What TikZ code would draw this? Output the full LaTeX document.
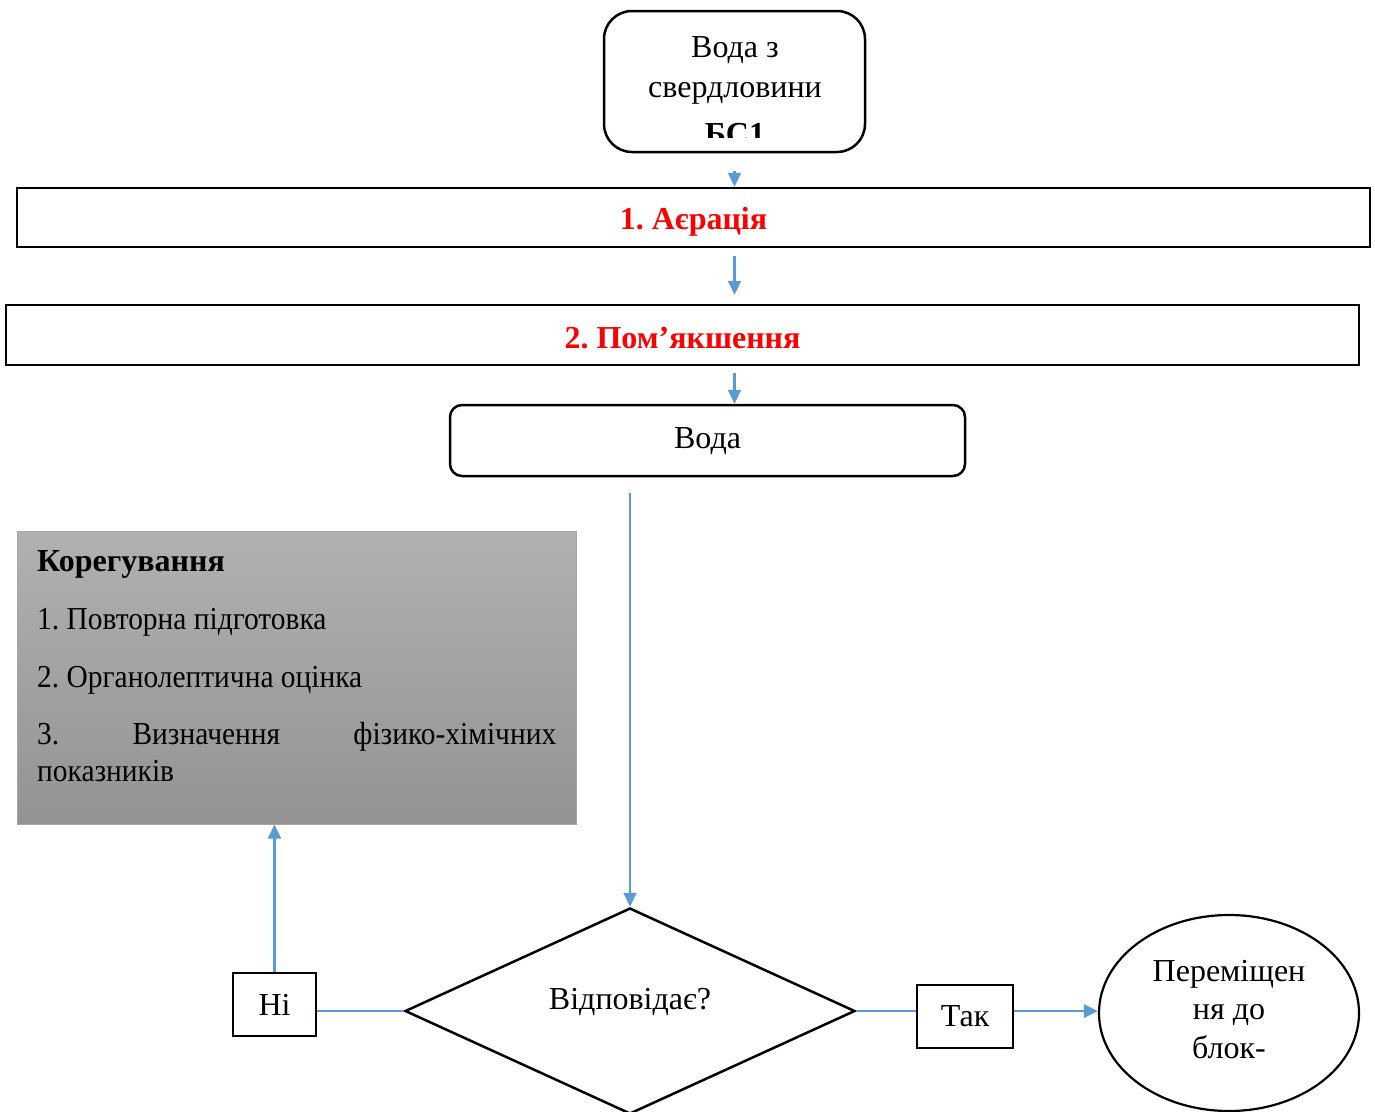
\documentclass[tikz,border=0pt]{standalone}
\usepackage{fontspec}
\setmainfont{Liberation Serif}
\newfontfamily\narrowserif[FakeStretch=0.92]{Liberation Serif}
\usetikzlibrary{shapes.geometric,arrows.meta,calc}
\definecolor{flow}{HTML}{5B9BD5}
\definecolor{shadetop}{HTML}{B1B1B1}
\definecolor{shadebot}{HTML}{939393}
\frenchspacing
\begin{document}
\begin{tikzpicture}[x=1pt,y=-1pt,
  every node/.style={font=\fontsize{32}{40}\selectfont, inner sep=0pt},
  frame/.style={draw=black, line width=2.5pt},
  stage/.style={frame, minimum width=1353pt, minimum height=59pt,
    text=red, font=\fontsize{32}{40}\selectfont\bfseries, text depth=0pt},
  answer/.style={frame, line width=2.2pt, text depth=0pt},
  flowarrow/.style={draw=flow, line width=2.2pt, -{Triangle[length=14pt,width=13pt]}},
  flowline/.style={draw=flow, line width=1.2pt},
  itemtext/.style={anchor=base west, font=\fontsize{32}{40}\narrowserif},
  linetext/.style={anchor=base}
]
\useasboundingbox (0,0) rectangle (1375,1111);
\clip (0,0) rectangle (1375,1111);

% source of water
\node[frame, rounded corners=28pt, minimum width=261pt, minimum height=141pt] (src) at (734.5,81.5) {};
\begin{scope}
  \clip ($(src.north west)+(4,4)$) rectangle ($(src.south east)+(-4,-16)$);
  \node[linetext] (srcA) at (735,57) {Вода з};
  \node[linetext] (srcB) at (735,97) {свердловини};
  \node[linetext, font=\fontsize{32}{40}\selectfont\bfseries] (srcC) at (735,144) {БС1};
\end{scope}

% treatment stages
\node[stage, text height=23pt] (aer) at (693.5,217.5) {1. Аєрація};
\node[stage, minimum height=60pt, text height=26pt] (soft) at (682.5,335) {2. Пом’якшення};

% treated water
\node[frame, rounded corners=12pt, minimum width=515pt, minimum height=71pt,
      text height=15pt, text depth=0pt] (water) at (707.5,440.5) {Вода};

% correction block
\node[draw=gray!70, line width=1pt, top color=shadetop, bottom color=shadebot,
      minimum width=559pt, minimum height=293pt] (corr) at (296.5,677.5) {};
\node[anchor=base west, font=\fontsize{32}{40}\selectfont\bfseries] (corrT) at (37,571) {Корегування};
\node[itemtext] (corr1) at (37,629) {1. Повторна підготовка};
\node[itemtext] (corr2) at (37,687) {2. Органолептична оцінка};
\node[itemtext] (corr3) at (37,744) {\hbox to 519pt{3.\hfill Визначення\hfill фізико-хімічних}};
\node[itemtext] (corr4) at (37,781) {показників};

% decision
\node[frame, diamond, minimum width=450pt, minimum height=206pt] (dia) at (630,1011) {};
\node[linetext] (diaT) at (630,1009) {Відповідає?};

\node[answer, minimum width=83pt, minimum height=63pt, text height=21pt] (no) at (274.5,1004.5) {Ні};
\node[answer, minimum width=96pt, minimum height=63pt, text height=20pt] (yes) at (965,1016.5) {Так};

\node[draw=black, line width=2.2pt, ellipse, minimum width=260pt, minimum height=196pt] (dest) at (1229,1013) {};
\node[linetext] (destA) at (1229,981.5) {Переміщен};
\node[linetext] (destB) at (1229,1019) {ня до};
\node[linetext] (destC) at (1229,1058) {блок-};

% connectors
\draw[flowarrow] ($(src.south)+(0,18)$) -- (aer.north -| src.south);
\draw[flowarrow, shorten >=9pt] ($(aer.south -| src.south)+(0,8)$) -- (soft.north -| src.south);
\draw[flowarrow] ($(soft.south -| src.south)+(0,7)$) -- (water.north -| src.south);
\draw[flowarrow] ($(dia.north |- water.south)+(0,16)$) -- (dia.north);
\draw[flowline] (dia.west) -- (no.east |- dia.west);
\draw[flowarrow] (no.north) -- (corr.south -| no.north);
\draw[flowline] (dia.east) -- (dia.east -| yes.west);
\draw[flowarrow, line width=2.8pt] (dia.east -| yes.east) -- (dia.east -| dest.west);
\end{tikzpicture}
\end{document}
